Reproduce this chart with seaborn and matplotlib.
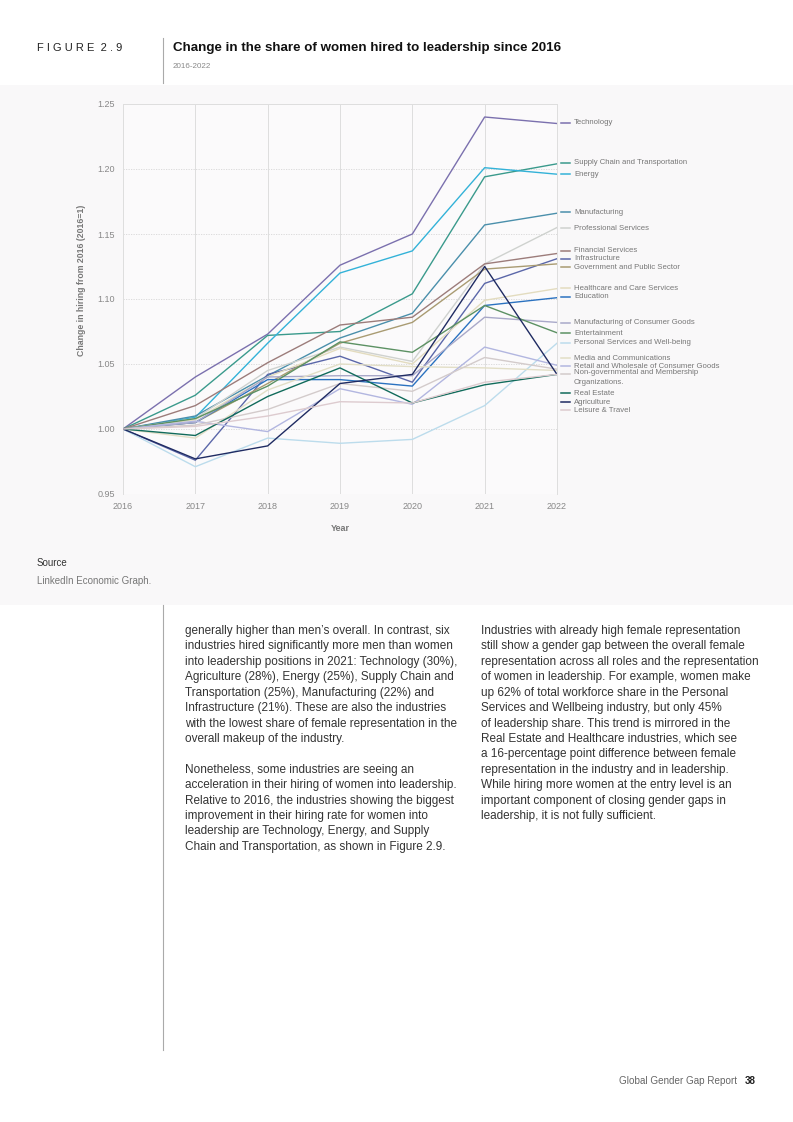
import numpy as np
import pandas as pd
import seaborn as sns
import matplotlib.pyplot as plt
from matplotlib.patches import Rectangle
from matplotlib.lines import Line2D

# %% data
years = [2016, 2017, 2018, 2019, 2020, 2021, 2022]

technology = [1.000, 1.040, 1.073, 1.126, 1.150, 1.240, 1.235]
supply_chain = [1.000, 1.026, 1.072, 1.075, 1.104, 1.194, 1.204]
energy = [1.000, 1.009, 1.066, 1.120, 1.137, 1.201, 1.196]
manufacturing = [1.000, 1.010, 1.041, 1.070, 1.089, 1.157, 1.166]
professional = [1.000, 1.008, 1.045, 1.063, 1.052, 1.127, 1.155]
financial = [1.000, 1.018, 1.051, 1.080, 1.086, 1.127, 1.135]
infrastructure = [1.000, 0.976, 1.042, 1.056, 1.036, 1.112, 1.131]
government = [1.000, 1.005, 1.035, 1.066, 1.082, 1.123, 1.127]
healthcare = [1.000, 1.007, 1.040, 1.062, 1.050, 1.099, 1.108]
education = [1.000, 1.005, 1.038, 1.038, 1.033, 1.095, 1.101]
manuf_consumer = [1.000, 1.005, 1.040, 1.041, 1.041, 1.086, 1.082]
entertainment = [1.000, 1.008, 1.033, 1.067, 1.059, 1.095, 1.074]
personal = [1.000, 0.971, 0.993, 0.989, 0.992, 1.018, 1.066]
media = [1.000, 0.993, 1.030, 1.050, 1.048, 1.047, 1.045]
retail = [1.000, 1.006, 0.998, 1.031, 1.019, 1.063, 1.049]
nongov = [1.000, 1.003, 1.015, 1.035, 1.029, 1.055, 1.046]
real_estate = [1.000, 0.995, 1.025, 1.047, 1.020, 1.034, 1.042]
agriculture = [1.000, 0.977, 0.987, 1.035, 1.042, 1.125, 1.042]
leisure = [1.000, 1.002, 1.010, 1.021, 1.020, 1.036, 1.042]

industries = ["Technology", "Supply Chain and Transportation", "Energy",
              "Manufacturing", "Professional Services", "Financial Services",
              "Infrastructure", "Government and Public Sector",
              "Healthcare and Care Services", "Education",
              "Manufacturing of Consumer Goods", "Entertainment",
              "Personal Services and Well-being", "Media and Communications",
              "Retail and Wholesale of Consumer Goods",
              "Non-governmental and Membership\nOrganizations.",
              "Real Estate", "Agriculture", "Leisure & Travel"]
series = [technology, supply_chain, energy, manufacturing, professional,
          financial, infrastructure, government, healthcare, education,
          manuf_consumer, entertainment, personal, media, retail, nongov,
          real_estate, agriculture, leisure]
colors = ["#7b70ae", "#3a9a8c", "#33b2d8", "#4a8fab", "#cfd2cf", "#9c7c7a",
          "#5b67a9", "#a99b72", "#e3dcbf", "#2b72c0", "#a9a9c9", "#5c9163",
          "#bcdcec", "#e2dec6", "#b2b6e0", "#d3cbcb", "#116b5b", "#1f2b62",
          "#ddcbcf"]
# label slots on the right (pixel rows of the reference page)
label_rows = [123, 163, 174, 212, 228, 251, 259, 267, 288, 297, 323, 333,
              343, 358, 366, 374, 393, 402, 410]

df = pd.DataFrame({
    "year": np.tile(years, len(industries)),
    "value": np.concatenate(series),
    "industry": np.repeat(industries, len(years)),
})

# %% figure
plt.rcParams['font.family'] = ['Liberation Sans', 'DejaVu Sans']
W, H = 793, 1122
fig = plt.figure(figsize=(W / 100, H / 100), dpi=100)
fig.patch.set_facecolor("white")


def fx(px):
    return px / W


def fy(py):
    return 1 - py / H


band = Rectangle((0, fy(605)), 1, 520 / H, transform=fig.transFigure,
                 facecolor="#f9f8f9", edgecolor="none", zorder=-5)
fig.add_artist(band)

# header
fig.text(fx(37), fy(48), "F I G U R E  2 . 9", fontsize=8.0, color="#222", va="center")
fig.add_artist(Line2D([fx(163), fx(163)], [fy(38), fy(83)], color="#aaa", lw=0.8))
fig.text(fx(173), fy(48), "Change in the share of women hired to leadership since 2016",
         fontsize=9.65, fontweight="bold", color="#111", va="center")
fig.text(fx(173), fy(67), "2016-2022", fontsize=5.8, color="#888", va="center")

ax = fig.add_axes([fx(123), fy(494), fx(557) - fx(123), (494 - 104) / H], zorder=2)
ax.set_facecolor("#fbfafb")
sns.lineplot(data=df, x="year", y="value", hue="industry", hue_order=industries,
             palette=dict(zip(industries, colors)), linewidth=1.0, legend=False,
             ax=ax, zorder=3)

ax.set_xlim(2016, 2022)
ax.set_ylim(0.95, 1.25)
ax.set_xticks(years)
ax.set_yticks([0.95, 1.00, 1.05, 1.10, 1.15, 1.20, 1.25])
ax.set_yticklabels(["0.95", "1.00", "1.05", "1.10", "1.15", "1.20", "1.25"])
ax.tick_params(length=0, labelsize=6.5, labelcolor="#888", pad=6)
for y in [1.00, 1.05, 1.10, 1.15, 1.20]:
    ax.axhline(y, color="#d6d6d6", lw=0.6, ls=(0, (1.5, 1.5)), zorder=1)
for x in years[1:-1]:
    ax.axvline(x, color="#dedede", lw=0.7, zorder=1)
for side in ["left", "right", "top"]:
    ax.spines[side].set_color("#dedede")
    ax.spines[side].set_linewidth(0.7)
ax.spines["bottom"].set_visible(False)
ax.set_xlabel("Year", fontsize=6.5, fontweight="bold", color="#777", labelpad=9)
ax.set_ylabel("Change in hiring from 2016 (2016=1)", fontsize=6.3, fontweight="bold",
              color="#777")
ax.yaxis.set_label_coords((86 - 123) / 434, (494 - 280) / 390)

# right-hand labels
for name, col, row in zip(industries, colors, label_rows):
    fig.add_artist(Line2D([fx(561), fx(570)], [fy(row), fy(row)], color=col, lw=1.1))
    if "\n" in name:
        fig.text(fx(574), fy(row - 4.5), name, fontsize=5.6, color="#777", va="top",
                 linespacing=1.45)
    else:
        fig.text(fx(574), fy(row), name, fontsize=5.6, color="#777", va="center")

# source
fig.text(fx(37), fy(563), "Source", fontsize=7.0, color="#333", va="center")
fig.text(fx(37), fy(581), "LinkedIn Economic Graph.", fontsize=7.0, color="#777", va="center")

# body text
fig.add_artist(Line2D([fx(163), fx(163)], [fy(605), fy(1050)], color="#aaa", lw=0.8))
left_col = ("generally higher than men\u2019s overall. In contrast, six\n"
            "industries hired significantly more men than women\n"
            "into leadership positions in 2021: Technology (30%),\n"
            "Agriculture (28%), Energy (25%), Supply Chain and\n"
            "Transportation (25%), Manufacturing (22%) and\n"
            "Infrastructure (21%). These are also the industries\n"
            "with the lowest share of female representation in the\n"
            "overall makeup of the industry.\n"
            "\n"
            "Nonetheless, some industries are seeing an\n"
            "acceleration in their hiring of women into leadership.\n"
            "Relative to 2016, the industries showing the biggest\n"
            "improvement in their hiring rate for women into\n"
            "leadership are Technology, Energy, and Supply\n"
            "Chain and Transportation, as shown in Figure 2.9.")
right_col = ("Industries with already high female representation\n"
             "still show a gender gap between the overall female\n"
             "representation across all roles and the representation\n"
             "of women in leadership. For example, women make\n"
             "up 62% of total workforce share in the Personal\n"
             "Services and Wellbeing industry, but only 45%\n"
             "of leadership share. This trend is mirrored in the\n"
             "Real Estate and Healthcare industries, which see\n"
             "a 16-percentage point difference between female\n"
             "representation in the industry and in leadership.\n"
             "While hiring more women at the entry level is an\n"
             "important component of closing gender gaps in\n"
             "leadership, it is not fully sufficient.")
for xpx, txt in [(185, left_col), (481, right_col)]:
    fig.text(fx(xpx), fy(625), txt, fontsize=8.5, color="#333", va="top",
             linespacing=1.38)

# footer
fig.text(fx(737), fy(1081), "Global Gender Gap Report", fontsize=7.1, color="#666",
         ha="right", va="center")
fig.text(fx(745), fy(1081), "38", fontsize=7.1, color="#222", fontweight="bold", va="center")

plt.savefig("out.png", dpi=100, facecolor=fig.get_facecolor())
